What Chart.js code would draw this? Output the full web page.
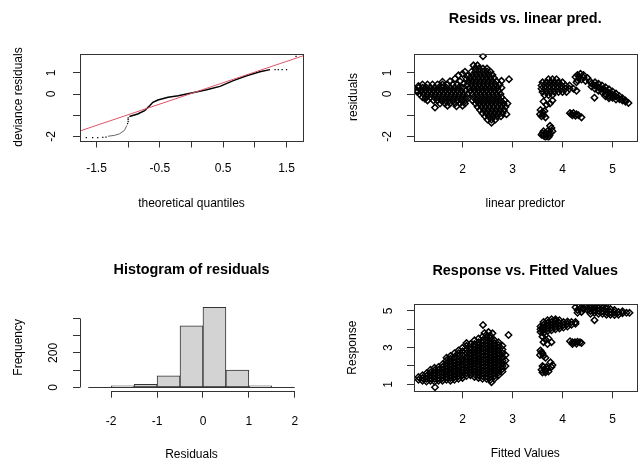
<!DOCTYPE html>
<html>
<head>
<meta charset="utf-8">
<script src="https://cdn.jsdelivr.net/npm/chart.js@4.4.1/dist/chart.umd.min.js"></script>
<style>
body { margin: 0; background: #fff; }
#wrap { position: relative; width: 642px; height: 466px; }
canvas { position: absolute; }
</style>
</head>
<body>
<div id="wrap">
<canvas id="qq" width="321" height="233" style="left:0;top:0"></canvas>
<canvas id="resid" width="321" height="233" style="left:321px;top:0"></canvas>
<canvas id="hist" width="321" height="233" style="left:0;top:233px"></canvas>
<canvas id="resp" width="321" height="233" style="left:321px;top:233px"></canvas>
</div>
<script>
// ---- data ----

// qq plot: theoretical quantile, deviance residual
const qqMain = [[-0.98,-1.06],[-0.85,-0.94],[-0.74,-0.78],[-0.66,-0.55],[-0.61,-0.39],[-0.53,-0.28],
  [-0.37,-0.15],[-0.21,-0.08],[0.0,0.05],[0.24,0.2],[0.45,0.36],[0.66,0.63],[0.87,0.86],[1.08,1.05],[1.24,1.15]];
const qqLow = [[-1.32,-1.99],[-1.22,-1.95],[-1.14,-1.88],[-1.06,-1.72],[-1.02,-1.48]];
const qqDots = [[-1.66,-2.05],[-1.56,-2.05],[-1.48,-2.05],[-1.4,-2.04],[-1.35,-2.03],
  [-1.01,-1.4],[-1.0,-1.3],[-1.0,-1.2],[-1.0,-1.12],
  [1.32,1.15],[1.37,1.15],[1.43,1.15],[1.5,1.15],[1.65,1.77]];
const qqRef = [[-1.8,-1.78],[1.8,1.84]];

// linear predictor, residual
const residPts = [
  [1.2,0.45],[1.3,0.45],[1.4,0.45],[1.5,0.45],[1.6,0.45],[1.7,0.45],[1.8,0.45],[1.9,0.45],
  [1.12,0.3],[1.2,0.3],[1.28,0.3],[1.36,0.3],[1.44,0.3],[1.52,0.3],[1.6,0.3],[1.68,0.3],[1.76,0.3],[1.84,0.3],[1.92,0.3],[2.0,0.3],
  [1.1,0.15],[1.18,0.15],[1.26,0.15],[1.34,0.15],[1.42,0.15],[1.5,0.15],[1.58,0.15],[1.66,0.15],[1.74,0.15],[1.82,0.15],[1.9,0.15],[1.98,0.15],[2.06,0.15],
  [1.14,0],[1.22,0],[1.3,0],[1.38,0],[1.46,0],[1.54,0],[1.62,0],[1.7,0],[1.78,0],[1.86,0],[1.94,0],[2.02,0],[2.1,0],
  [1.2,-0.15],[1.28,-0.15],[1.36,-0.15],[1.44,-0.15],[1.52,-0.15],[1.6,-0.15],[1.68,-0.15],[1.76,-0.15],[1.84,-0.15],[1.92,-0.15],[2.0,-0.15],[2.08,-0.15],
  [1.3,-0.3],[1.42,-0.3],[1.5,-0.3],[1.58,-0.3],[1.66,-0.3],[1.74,-0.3],[1.82,-0.3],[1.9,-0.3],[1.98,-0.3],[2.06,-0.3],
  [1.55,-0.45],[1.65,-0.45],[1.75,-0.45],[1.85,-0.45],[1.95,-0.45],[2.05,-0.45],
  [1.45,-0.64],[1.1,0.1],[1.12,0.38],[1.25,-0.22],[1.6,0.58],[1.75,0.6],[1.85,0.72],[1.92,0.88],[2.0,0.95],
  [2.05,1.05],[2.08,0.72],[1.95,0.6],[2.02,0.48],[1.7,-0.55],[1.88,-0.58],[2.0,-0.55],[2.1,0.85],
  [2.22,1.35],[2.3,1.35],
  [2.25,1.2],[2.33,1.2],[2.41,1.2],[2.49,1.2],
  [2.18,1.05],[2.26,1.05],[2.34,1.05],[2.42,1.05],[2.5,1.05],[2.56,1.05],
  [2.2,0.9],[2.28,0.9],[2.36,0.9],[2.44,0.9],[2.52,0.9],[2.6,0.9],
  [2.15,0.75],[2.23,0.75],[2.31,0.75],[2.39,0.75],[2.47,0.75],[2.55,0.75],[2.63,0.75],
  [2.12,0.6],[2.2,0.6],[2.28,0.6],[2.36,0.6],[2.44,0.6],[2.52,0.6],[2.6,0.6],[2.68,0.6],
  [2.1,0.45],[2.18,0.45],[2.26,0.45],[2.34,0.45],[2.42,0.45],[2.5,0.45],[2.58,0.45],[2.66,0.45],[2.74,0.45],
  [2.14,0.3],[2.22,0.3],[2.3,0.3],[2.38,0.3],[2.46,0.3],[2.54,0.3],[2.62,0.3],[2.7,0.3],[2.78,0.3],
  [2.16,0.15],[2.24,0.15],[2.32,0.15],[2.4,0.15],[2.48,0.15],[2.56,0.15],[2.64,0.15],[2.72,0.15],
  [2.2,0],[2.28,0],[2.36,0],[2.44,0],[2.52,0],[2.6,0],[2.68,0],[2.76,0],
  [2.22,-0.15],[2.3,-0.15],[2.38,-0.15],[2.46,-0.15],[2.54,-0.15],[2.62,-0.15],[2.7,-0.15],[2.78,-0.15],
  [2.2,-0.3],[2.28,-0.3],[2.36,-0.3],[2.44,-0.3],[2.52,-0.3],[2.6,-0.3],[2.68,-0.3],[2.76,-0.3],[2.84,-0.3],
  [2.26,-0.45],[2.34,-0.45],[2.42,-0.45],[2.5,-0.45],[2.58,-0.45],[2.66,-0.45],[2.74,-0.45],[2.82,-0.45],
  [2.3,-0.6],[2.38,-0.6],[2.46,-0.6],[2.54,-0.6],[2.62,-0.6],[2.7,-0.6],[2.78,-0.6],[2.86,-0.6],
  [2.35,-0.75],[2.43,-0.75],[2.51,-0.75],[2.59,-0.75],[2.67,-0.75],[2.75,-0.75],[2.83,-0.75],
  [2.4,-0.9],[2.48,-0.9],[2.56,-0.9],[2.64,-0.9],[2.72,-0.9],[2.8,-0.9],
  [2.45,-1.05],[2.53,-1.05],[2.61,-1.05],[2.69,-1.05],[2.77,-1.05],
  [2.5,-1.2],[2.58,-1.2],[2.66,-1.2],[2.58,-1.35],
  [2.41,1.78],[2.93,0.7],[2.78,0.62],[2.88,-0.95],[2.9,-0.45],
  [3.72,0.7],[3.8,0.7],[3.88,0.7],
  [3.6,0.55],[3.68,0.55],[3.76,0.55],[3.84,0.55],[3.92,0.55],[4.0,0.55],
  [3.58,0.4],[3.66,0.4],[3.74,0.4],[3.82,0.4],[3.9,0.4],[3.98,0.4],[4.06,0.4],[4.14,0.4],
  [3.58,0.25],[3.66,0.25],[3.74,0.25],[3.82,0.25],[3.9,0.25],[3.98,0.25],[4.06,0.25],[4.14,0.25],[4.22,0.25],[4.28,0.15],
  [3.6,0.1],[3.68,0.1],[3.76,0.1],[3.84,0.1],[3.92,0.1],[4.0,0.1],[4.08,0.1],
  [3.64,-0.05],[3.72,-0.05],[3.8,-0.05],
  [3.62,-0.35],[3.68,-0.5],[3.75,-0.45],[3.8,-0.3],
  [3.56,-0.75],[3.6,-0.85],[3.55,-0.95],[3.62,-1.0],[3.66,-1.1],[3.58,-1.05],[3.64,-0.8],
  [3.62,-1.75],[3.7,-1.75],[3.6,-1.85],[3.66,-1.85],[3.72,-1.85],[3.62,-1.95],[3.68,-1.95],[3.74,-1.95],
  [3.66,-2.03],[3.72,-2.03],[3.78,-1.6],[3.8,-1.75],[3.75,-1.5],[3.58,-1.92],[3.76,-1.82],
  [4.15,-0.9],[4.22,-0.9],[4.28,-0.95],[4.2,-1.0],[4.26,-1.02],[4.32,-1.0],[4.38,-1.1],[4.18,-0.95],
  [4.3,0.9],[4.36,0.95],[4.42,0.9],[4.26,0.8],[4.34,0.8],[4.42,0.78],[4.5,0.75],[4.3,0.65],[4.38,0.68],[4.46,0.62],[4.55,0.6],[4.28,0.55],
  [4.58,0.5],[4.58,0.35],[4.65,0.55],[4.65,0.4],[4.65,0.25],[4.72,0.48],[4.72,0.32],[4.72,0.16],
  [4.79,0.4],[4.79,0.24],[4.79,0.08],[4.86,0.32],[4.86,0.16],[4.86,0.0],[4.86,-0.1],
  [4.93,0.22],[4.93,0.06],[4.93,-0.1],[4.93,-0.2],[5.0,0.12],[5.0,-0.02],[5.0,-0.18],
  [5.07,0.02],[5.07,-0.12],[5.07,-0.26],[5.14,-0.1],[5.14,-0.24],[5.2,-0.2],[5.2,-0.3],
  [5.26,-0.3],[5.26,-0.36],[5.32,-0.42],[4.64,-0.17]
];

// fitted value, response
const respPts = [
  [1.12,1.25],[1.12,1.4],[1.2,1.2],[1.2,1.35],[1.2,1.5],
  [1.28,1.15],[1.28,1.3],[1.28,1.45],[1.28,1.6],
  [1.36,1.2],[1.36,1.35],[1.36,1.5],[1.36,1.65],[1.36,1.8],
  [1.44,1.15],[1.44,1.3],[1.44,1.45],[1.44,1.6],[1.44,1.75],[1.44,1.9],
  [1.52,1.2],[1.52,1.35],[1.52,1.5],[1.52,1.65],[1.52,1.8],[1.52,1.95],
  [1.6,1.2],[1.6,1.35],[1.6,1.5],[1.6,1.65],[1.6,1.8],[1.6,1.95],[1.6,2.1],
  [1.68,1.25],[1.68,1.4],[1.68,1.55],[1.68,1.7],[1.68,1.85],[1.68,2.0],[1.68,2.15],[1.68,2.3],[1.68,2.45],
  [1.76,1.2],[1.76,1.35],[1.76,1.5],[1.76,1.65],[1.76,1.8],[1.76,1.95],[1.76,2.1],[1.76,2.25],[1.76,2.4],[1.76,2.55],
  [1.84,1.25],[1.84,1.4],[1.84,1.55],[1.84,1.7],[1.84,1.85],[1.84,2.0],[1.84,2.15],[1.84,2.3],[1.84,2.5],[1.84,2.7],
  [1.92,1.3],[1.92,1.45],[1.92,1.6],[1.92,1.75],[1.92,1.9],[1.92,2.05],[1.92,2.2],[1.92,2.35],[1.92,2.55],[1.92,2.7],[1.92,2.85],
  [2.0,1.35],[2.0,1.5],[2.0,1.65],[2.0,1.8],[2.0,1.95],[2.0,2.1],[2.0,2.25],[2.0,2.4],[2.0,2.6],[2.0,2.8],[2.0,3.0],
  [2.08,1.45],[2.08,1.6],[2.08,1.75],[2.08,1.9],[2.08,2.05],[2.08,2.2],[2.08,2.35],[2.08,2.5],[2.08,2.7],[2.08,2.9],[2.08,3.1],[2.08,3.25],
  [1.45,0.84],
  [2.16,1.5],[2.16,1.65],[2.16,1.8],[2.16,1.95],[2.16,2.1],[2.16,2.25],[2.16,2.4],[2.16,2.55],[2.16,2.7],[2.16,2.85],[2.16,3.0],[2.16,3.2],
  [2.24,1.4],[2.24,1.55],[2.24,1.7],[2.24,1.85],[2.24,2.0],[2.24,2.15],[2.24,2.3],[2.24,2.45],[2.24,2.6],[2.24,2.75],[2.24,2.9],[2.24,3.05],[2.24,3.2],[2.24,3.4],
  [2.32,1.35],[2.32,1.5],[2.32,1.65],[2.32,1.8],[2.32,1.95],[2.32,2.1],[2.32,2.25],[2.32,2.4],[2.32,2.55],[2.32,2.7],[2.32,2.85],[2.32,3.0],[2.32,3.15],[2.32,3.3],[2.32,3.5],
  [2.4,1.3],[2.4,1.45],[2.4,1.6],[2.4,1.75],[2.4,1.9],[2.4,2.05],[2.4,2.2],[2.4,2.35],[2.4,2.5],[2.4,2.65],[2.4,2.8],[2.4,2.95],[2.4,3.1],[2.4,3.25],[2.4,3.4],[2.4,3.6],
  [2.48,1.3],[2.48,1.45],[2.48,1.6],[2.48,1.75],[2.48,1.9],[2.48,2.05],[2.48,2.2],[2.48,2.35],[2.48,2.5],[2.48,2.65],[2.48,2.8],[2.48,2.95],[2.48,3.1],[2.48,3.25],[2.48,3.4],[2.48,3.55],[2.48,3.7],
  [2.56,1.25],[2.56,1.4],[2.56,1.55],[2.56,1.7],[2.56,1.85],[2.56,2.0],[2.56,2.15],[2.56,2.3],[2.56,2.45],[2.56,2.6],[2.56,2.75],[2.56,2.9],[2.56,3.05],[2.56,3.2],[2.56,3.35],[2.56,3.5],[2.56,3.65],
  [2.64,1.3],[2.64,1.45],[2.64,1.6],[2.64,1.75],[2.64,1.9],[2.64,2.05],[2.64,2.2],[2.64,2.35],[2.64,2.5],[2.64,2.65],[2.64,2.8],[2.64,2.95],[2.64,3.1],[2.64,3.25],[2.64,3.4],
  [2.72,1.5],[2.72,1.65],[2.72,1.8],[2.72,1.95],[2.72,2.1],[2.72,2.25],[2.72,2.4],[2.72,2.55],[2.72,2.7],[2.72,2.85],[2.72,3.0],[2.72,3.15],[2.72,3.3],
  [2.8,1.7],[2.8,1.85],[2.8,2.0],[2.8,2.15],[2.8,2.3],[2.8,2.5],[2.8,2.7],[2.8,2.9],[2.8,3.1],
  [2.86,2.0],[2.86,2.3],[2.86,2.6],
  [2.44,3.8],[2.52,3.85],[2.6,3.78],[2.58,1.12],[2.41,4.24],[2.92,3.69],
  [3.56,3.85],[3.56,4.0],[3.56,4.15],
  [3.62,3.8],[3.62,3.95],[3.62,4.1],[3.62,4.25],[3.62,4.4],
  [3.7,3.9],[3.7,4.05],[3.7,4.2],[3.7,4.35],[3.7,4.5],
  [3.78,3.95],[3.78,4.1],[3.78,4.25],[3.78,4.4],[3.78,4.55],
  [3.86,4.0],[3.86,4.15],[3.86,4.3],[3.86,4.45],[3.86,4.55],
  [3.94,4.05],[3.94,4.2],[3.94,4.35],[3.94,4.5],
  [4.02,4.1],[4.02,4.25],[4.02,4.4],[4.1,4.15],[4.1,4.3],[4.1,4.42],
  [4.18,4.25],[4.18,4.4],[4.26,4.3],[4.26,4.4],
  [3.6,3.6],[3.66,3.45],[3.72,3.5],[3.62,3.3],[3.78,3.3],[3.7,3.2],
  [3.56,2.85],[3.6,2.7],[3.55,2.6],[3.62,2.55],[3.66,2.45],[3.58,2.75],
  [3.6,1.65],[3.66,1.65],[3.72,1.7],[3.58,1.8],[3.64,1.8],[3.7,1.85],[3.62,1.95],[3.68,1.95],[3.66,1.75],[3.6,2.0],
  [3.76,2.2],[3.8,2.05],[3.78,1.95],
  [4.15,3.35],[4.2,3.3],[4.25,3.3],[4.3,3.32],[4.35,3.3],[4.2,3.2],[4.28,3.22],[4.38,3.25],
  [4.26,5.2],[4.3,5.05],[4.34,5.3],[4.36,5.15],[4.42,5.3],[4.42,5.1],[4.48,5.25],[4.5,5.05],[4.3,4.9],[4.38,4.95],
  [4.56,4.85],[4.56,5.0],[4.56,5.15],[4.56,5.3],[4.64,4.9],[4.64,5.05],[4.64,5.2],[4.64,5.32],
  [4.72,4.85],[4.72,5.0],[4.72,5.15],[4.72,5.3],[4.8,4.85],[4.8,5.0],[4.8,5.15],[4.8,5.28],
  [4.88,4.8],[4.88,4.95],[4.88,5.1],[4.88,5.22],[4.96,4.8],[4.96,4.95],[4.96,5.1],
  [5.04,4.78],[5.04,4.92],[5.04,5.05],[5.12,4.8],[5.12,4.95],[5.2,4.88],[5.2,4.98],
  [5.28,4.9],[5.34,4.9],[4.64,4.5]
];

// histogram of residuals
const histEdges = [-2.5, -2, -1.5, -1, -0.5, 0, 0.5, 1, 1.5, 2];
const histCounts = [0, 10, 19, 68, 357, 465, 101, 10, 0];

// ticks and the labels R actually printed
const qqXTicks = [-1.5, -1, -0.5, 0, 0.5, 1, 1.5];
const qqXLabels = ['-1.5', '', '-0.5', '', '0.5', '', '1.5'];
const residYTicks = [-2, -1, 0, 1];
const residYLabels = ['-2', '', '0', '1'];
const fitXTicks = [2, 3, 4, 5];
const fitXLabels = ['2', '3', '4', '5'];
const histXTicks = [-2, -1, 0, 1, 2];
const histXLabels = ['-2', '-1', '0', '1', '2'];
const histYTicks = [0, 100, 200, 300, 400];
const histYLabels = ['0', '', '200', '', ''];
const respYTicks = [1, 2, 3, 4, 5];
const respYLabels = ['1', '', '3', '', '5'];

// ---- chart setup ----
Chart.defaults.font.family = "'Liberation Sans', Arial, sans-serif";
Chart.defaults.font.size = 12;
Chart.defaults.color = '#000';
Chart.defaults.animation = false;
Chart.defaults.events = [];
Chart.defaults.plugins.legend.display = false;
Chart.defaults.plugins.tooltip.enabled = false;

const toXY = pts => pts.map(p => ({x: p[0], y: p[1]}));

// R style axis: ticks outside, only some labels, fixed size
function rAxis(pos, min, max, ticks, labels, size, title, titlePad, tickPad) {
  const left = pos === 'left';
  return {
    type: 'linear', position: pos, min: min, max: max, offset: false,
    afterBuildTicks: s => { s.ticks = ticks.map(v => ({value: v})); },
    afterFit: s => { if (left) s.width = size; else s.height = size; },
    grid: {drawOnChartArea: false, drawTicks: true, tickLength: 7, color: '#333', offset: false},
    border: {display: false},
    ticks: {
      autoSkip: false, padding: tickPad,
      minRotation: left ? 90 : 0, maxRotation: left ? 90 : 0,
      crossAlign: left ? 'center' : 'near',
      callback: (v, i) => labels[i]
    },
    title: {display: true, text: title, padding: left ? {top: titlePad} : {bottom: titlePad}}
  };
}

function rTitle(text, top, bottom) {
  return {display: true, text: text, fullSize: false, color: '#000',
    font: {size: 14.4, weight: 'bold'}, padding: {top: top, bottom: bottom}};
}

// box round the plot region, or R axis lines from first to last tick
const rFrame = {
  id: 'rFrame',
  afterDraw(chart, args, opts) {
    const ctx = chart.ctx, a = chart.chartArea;
    ctx.save();
    ctx.strokeStyle = '#333';
    ctx.lineWidth = 1;
    if (opts.box) {
      ctx.strokeRect(Math.round(a.left) + 0.5, Math.round(a.top) + 0.5,
        Math.round(a.right - a.left), Math.round(a.bottom - a.top));
    }
    if (opts.axes) {
      const xs = chart.scales.x, ys = chart.scales.y;
      const yb = Math.round(a.bottom) + 0.5, xl = Math.round(a.left) + 0.5;
      ctx.beginPath();
      ctx.moveTo(xs.getPixelForValue(xs.ticks[0].value), yb);
      ctx.lineTo(xs.getPixelForValue(xs.ticks[xs.ticks.length - 1].value), yb);
      ctx.moveTo(xl, ys.getPixelForValue(ys.ticks[0].value));
      ctx.lineTo(xl, ys.getPixelForValue(ys.ticks[ys.ticks.length - 1].value));
      ctx.stroke();
    }
    ctx.restore();
  }
};

// open diamonds, heavy enough that the crowded clusters read as solid
const diamonds = {pointStyle: 'rectRot', pointRadius: 3.2, borderColor: '#000', borderWidth: 1.5,
  backgroundColor: 'rgba(0,0,0,0)', showLine: false};

// qq plot
new Chart(document.getElementById('qq'), {
  type: 'scatter',
  data: {datasets: [
    {data: toXY(qqRef), showLine: true, borderColor: '#DF536B', borderWidth: 1, pointRadius: 0},
    {data: toXY(qqMain), showLine: true, borderColor: '#000', borderWidth: 1.5, pointRadius: 0},
    {data: toXY(qqLow), showLine: true, borderColor: '#666', borderWidth: 1, pointRadius: 0},
    {data: toXY(qqDots), pointStyle: 'rect', pointRadius: 0.9, borderWidth: 0, backgroundColor: '#000'}
  ]},
  options: {
    responsive: false,
    layout: {padding: {top: 53.5, right: 18, left: 0, bottom: 0}},
    scales: {
      x: rAxis('bottom', -1.76, 1.76, qqXTicks, qqXLabels, 92.5, 'theoretical quantiles', 22.3, 14),
      y: rAxis('left', -2.19, 1.91, residYTicks, residYLabels, 80, 'deviance residuals', 11.3, 15.6)
    },
    plugins: {rFrame: {box: true}}
  },
  plugins: [rFrame]
});

// resids vs linear pred
new Chart(document.getElementById('resid'), {
  type: 'scatter',
  data: {datasets: [Object.assign({data: toXY(residPts)}, diamonds)]},
  options: {
    responsive: false,
    layout: {padding: {top: 0, right: 5.3, left: 0, bottom: 0}},
    scales: {
      x: rAxis('bottom', 1.03, 5.48, fitXTicks, fitXLabels, 92.5, 'linear predictor', 21.8, 15.3),
      y: rAxis('left', -2.19, 1.91, residYTicks, residYLabels, 93, 'residuals', 25, 14.4)
    },
    plugins: {title: rTitle('Resids vs. linear pred.', 10.86, 25.36), rFrame: {box: true}}
  },
  plugins: [rFrame]
});

// histogram
new Chart(document.getElementById('hist'), {
  type: 'bar',
  data: {datasets: [
    {type: 'line', data: [{x: histEdges[0], y: 0}, {x: histEdges[histEdges.length - 1], y: 0}],
      borderColor: '#333', borderWidth: 1, pointRadius: 0},
    {data: histCounts.map((c, i) => ({x: (histEdges[i] + histEdges[i + 1]) / 2, y: c})),
      backgroundColor: '#D3D3D3', borderColor: '#333', borderWidth: 1, borderSkipped: false,
      barPercentage: 1, categoryPercentage: 1}
  ]},
  options: {
    responsive: false,
    layout: {padding: {top: 0, right: 18, left: 0, bottom: 0}},
    scales: {
      x: rAxis('bottom', -2.68, 2.18, histXTicks, histXLabels, 75.3, 'Residuals', 4.3, 16.4),
      y: rAxis('left', -18.6, 483.6, histYTicks, histYLabels, 80, 'Frequency', 11.3, 9.7)
    },
    plugins: {title: rTitle('Histogram of residuals', 28.36, 25.36), rFrame: {axes: true}}
  },
  plugins: [rFrame]
});

// response vs fitted
new Chart(document.getElementById('resp'), {
  type: 'scatter',
  data: {datasets: [Object.assign({data: toXY(respPts)}, diamonds)]},
  options: {
    responsive: false,
    layout: {padding: {top: 0, right: 5.3, left: 0, bottom: 0}},
    scales: {
      x: rAxis('bottom', 1.03, 5.48, fitXTicks, fitXLabels, 74.7, 'Fitted Values', 4.8, 14.5),
      y: rAxis('left', 0.62, 5.38, respYTicks, respYLabels, 93, 'Response', 24, 15)
    },
    plugins: {title: rTitle('Response vs. Fitted Values', 29.16, 24.56), rFrame: {box: true}}
  },
  plugins: [rFrame]
});
</script>
</body>
</html>
